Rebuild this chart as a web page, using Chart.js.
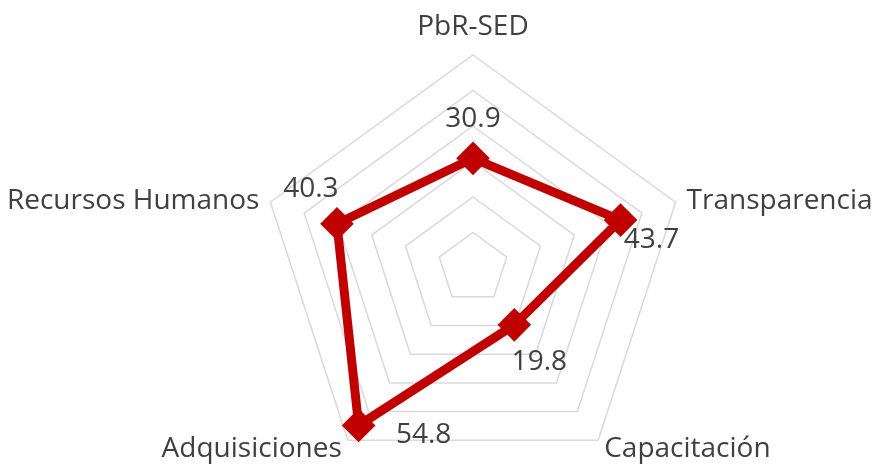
<!DOCTYPE html>
<html>
<head>
<meta charset="utf-8">
<script src="https://cdn.jsdelivr.net/npm/chart.js@4"></script>
<style>
  html, body { margin: 0; padding: 0; background: #fff; overflow: hidden; }
</style>
</head>
<body>
<canvas id="radarChart" width="876" height="464"></canvas>
<script>
const categories = ["PbR-SED", "Transparencia", "Capacitación", "Adquisiciones", "Recursos Humanos"];
const values = [30.9, 43.7, 19.8, 54.8, 40.3];
const scaleMin = 0;
const scaleMax = 60;
const scaleStep = 10;

// where each value label sits relative to its marker (dx, baseline dy)
const valueOffsets = [[0, -31], [31, 28], [25, 45], [65, 18], [-26, -27]];
const textColor = "#404040";
const labelFont = '28px "Open Sans"';

const radarLabels = {
    id: "radarLabels",
    afterDatasetsDraw(chart) {
        const ctx = chart.ctx;
        const scale = chart.scales.r;
        const meta = chart.getDatasetMeta(0);
        ctx.save();
        ctx.font = labelFont;
        ctx.fillStyle = textColor;
        ctx.textBaseline = "alphabetic";
        categories.forEach((name, i) => {
            const p = scale.getPointPosition(i, scale.drawingArea);
            const dx = p.x - scale.xCenter;
            let x = p.x;
            let y;
            if (Math.abs(dx) < 1) {
                ctx.textAlign = "center";
                y = p.y - 20;
            } else {
                const upper = p.y < scale.yCenter;
                ctx.textAlign = dx > 0 ? "left" : "right";
                x += (dx > 0 ? 1 : -1) * (upper ? 11 : 6);
                y = upper ? p.y + 7 : p.y + 17;
            }
            ctx.fillText(name, x, y);
        });
        ctx.textAlign = "center";
        meta.data.forEach((pt, i) => {
            ctx.fillText(values[i].toFixed(1), pt.x + valueOffsets[i][0], pt.y + valueOffsets[i][1]);
        });
        ctx.restore();
    },
};

function draw() {
    const ctx = document.getElementById("radarChart").getContext("2d");
    new Chart(ctx, {
        type: "radar",
        data: {
            labels: categories,
            datasets: [
                {
                    data: values,
                    borderColor: "#C00000",
                    backgroundColor: "rgba(0,0,0,0)",
                    borderWidth: 9,
                    borderJoinStyle: "round",
                    fill: false,
                    pointStyle: "rectRot",
                    pointRadius: 14,
                    pointBorderWidth: 4,
                    pointBackgroundColor: "#C00000",
                    pointBorderColor: "#C00000",
                },
            ],
        },
        options: {
            responsive: false,
            animation: false,
            plugins: {
                legend: { display: false },
                tooltip: { enabled: false },
            },
            scales: {
                r: {
                    min: scaleMin,
                    max: scaleMax,
                    ticks: { stepSize: scaleStep, display: false },
                    grid: { color: "#d9d9d9", lineWidth: 1.5 },
                    angleLines: { display: false },
                    pointLabels: { display: false },
                    afterFit: (scale) => {
                        scale.xCenter = 473;
                        scale.yCenter = 268;
                        scale.drawingArea = 213;
                    },
                },
            },
        },
        plugins: [radarLabels],
    });
}

document.fonts.load(labelFont).then(draw, draw);
</script>
</body>
</html>
